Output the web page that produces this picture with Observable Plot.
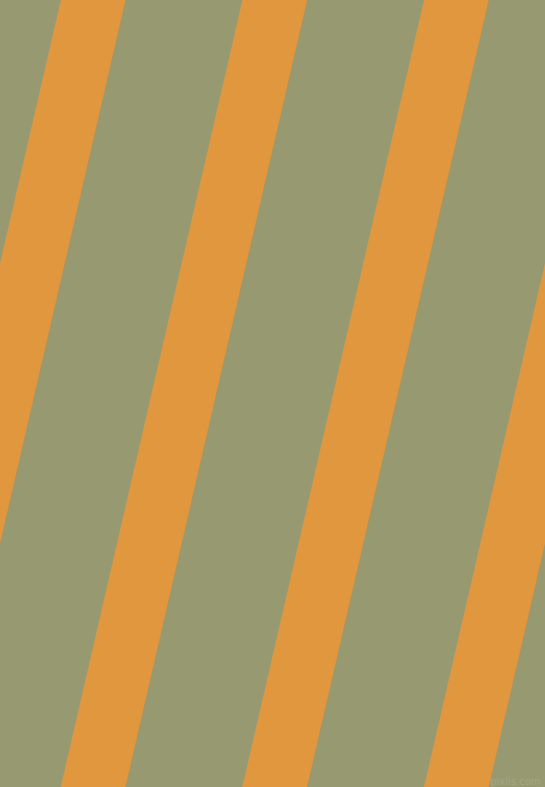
<!DOCTYPE html>
<html>
<head>
<meta charset="utf-8">
<script src="https://cdn.jsdelivr.net/npm/d3@7"></script>
<script src="https://cdn.jsdelivr.net/npm/@observablehq/plot@0.6"></script>
<style>
  html, body { margin: 0; padding: 0; background: #979970; overflow: hidden; }
  #chart svg { display: block; }
</style>
</head>
<body>
<div id="chart"></div>
<script>
// Stripe left edges along the top edge (px in the picture's own units)
const stripeTopLeft = [60.8, 242.4, 424.0, 605.7];
const stripeWidth = 64.7;          // horizontal width of each orange band
const driftOverHeight = 181.7;     // how far a band moves left from top to bottom
const W = 545, H = 787;
const bgColor = "#979970";
const stripeColor = "#e1973e";
const watermark = ["pixlis.com"];

const rows = stripeTopLeft.flatMap((s, i) => [
  {stripe: i, y: 0, x1: s, x2: s + stripeWidth},
  {stripe: i, y: H, x1: s - driftOverHeight, x2: s - driftOverHeight + stripeWidth}
]);

const chart = Plot.plot({
  width: W,
  height: H,
  margin: 0,
  x: {domain: [0, W], range: [0, W], axis: null},
  y: {domain: [0, H], range: [0, H], axis: null},
  style: {background: bgColor},
  marks: [
    Plot.areaX(rows, {y: "y", x1: "x1", x2: "x2", z: "stripe", fill: stripeColor, clip: true}),
    Plot.text(watermark, {
      frameAnchor: "bottom-right", dx: -5, dy: -3,
      fill: "#a5a687", fontSize: 10, fontFamily: "DejaVu Sans, sans-serif"
    })
  ]
});
document.getElementById("chart").appendChild(chart);
</script>
</body>
</html>
